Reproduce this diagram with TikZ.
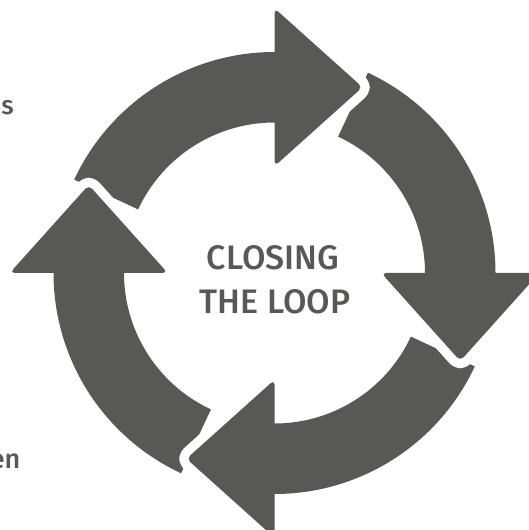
\documentclass[tikz,border=0pt]{standalone}
\usepackage{fontspec}
\setmainfont{Fira Sans}[UprightFont={* Medium}]
\usetikzlibrary{calc}
\definecolor{loopgray}{RGB}{88,88,86}
\begin{document}
\begin{tikzpicture}[x=1pt,y=1pt,
  shaftfill/.style={fill=loopgray},
  headgap/.style={draw=white, line width=19pt, rounded corners=5pt, line join=round},
  headfill/.style={fill=loopgray, rounded corners=5pt},
  txt/.style={text=loopgray, inner sep=0pt}]
\useasboundingbox (0,0) rectangle (528,530);
\coordinate (C) at (274.5,257);
\pgfmathsetmacro{\Ro}{221}
\pgfmathsetmacro{\Ri}{150.5}
\pgfmathsetmacro{\Rm}{185.75}
\pgfmathsetmacro{\Hw}{79}
\pgfmathsetmacro{\Hl}{88}
\pgfmathsetmacro{\Rho}{\Rm+\Hw}
\pgfmathsetmacro{\Rhi}{\Rm-\Hw}
% shafts
\foreach \bb in {90,0,-90,180}{
  \pgfmathsetmacro{\ta}{\bb+65}
  \pgfmathsetmacro{\ea}{\bb-1}
  \fill[shaftfill] ($(C)+(\ta:\Ro)$) arc[start angle=\ta, end angle=\ea, radius=\Ro]
    -- ($(C)+(\ea:\Ri)$) arc[start angle=\ea, end angle=\ta, radius=\Ri] -- cycle;
}
% heads
\foreach \bb/\nn in {90/top,0/right,-90/bottom,180/left}{
  \pgfmathsetmacro{\da}{\bb-90}
  \coordinate (\nn-o) at ($(C)+(\bb:\Rho)$);
  \coordinate (\nn-i) at ($(C)+(\bb:\Rhi)$);
  \coordinate (\nn-tip) at ($(C)+(\bb:\Rm)+(\da:\Hl)$);
  \draw[headgap] (\nn-o) -- (\nn-tip) -- (\nn-i);
  \fill[headfill] (\nn-o) -- (\nn-tip) -- (\nn-i) -- cycle;
}
\node[txt, anchor=base, font=\fontsize{34}{42}\selectfont] (t1) at (273,260.6) {CLOSING};
\node[txt, anchor=base, font=\fontsize{34}{42}\selectfont] (t2) at (275,216.2) {THE LOOP};
\node[txt, anchor=base east, font=\fontsize{26}{30}\selectfont] (s) at (14,415.5) {s};
\node[txt, anchor=base east, font=\fontsize{27}{32}\selectfont] (en) at (20.5,61) {en};
\end{tikzpicture}
\end{document}
